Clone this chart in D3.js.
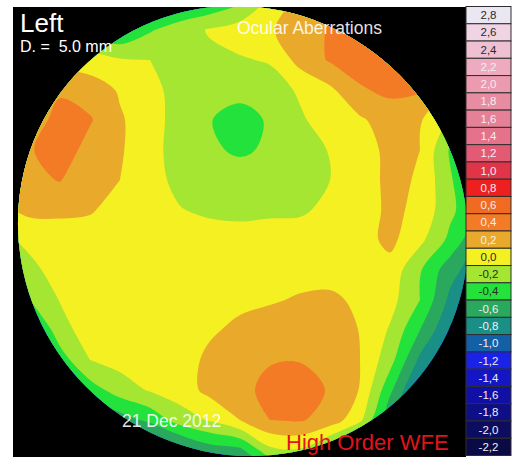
<!DOCTYPE html>
<html>
<head>
<meta charset="utf-8">
<style>
  body { margin: 0; background: #fff; }
  svg { display: block; }
  text { font-family: "Liberation Sans", Arial, sans-serif; }
</style>
</head>
<body>
<svg width="512" height="457"></svg>
<script src="https://d3js.org/d3.v7.min.js"></script>
<script>

  // legend steps (microns), top to bottom
  var legendValues = [2.8, 2.6, 2.4, 2.2, 2.0, 1.8, 1.6, 1.4, 1.2, 1.0, 0.8, 0.6, 0.4, 0.2,
                      0.0, -0.2, -0.4, -0.6, -0.8, -1.0, -1.2, -1.4, -1.6, -1.8, -2.0, -2.2];

  var bandColors = ["#ebe7f2", "#f0d4e4", "#efc0d2", "#eeaabf", "#eb9aaf", "#e88ca2", "#e68097",
                    "#e3728a", "#e25a74", "#e03448", "#ee1f1f", "#f06a22", "#f37b25", "#e9aa2b",
                    "#f4f022", "#a4e632", "#23e23c", "#2aa85e", "#1a8f86", "#1460a6", "#1a22e8",
                    "#1416c4", "#1010a6", "#0e0e86", "#0c0c60", "#0a0a44"];

  // wavefront error, one row every 30px (x = 0..480)
  var wfe = [
    [-0.3, -0.3, -0.5, -0.6, -0.6, -0.6, -0.55, -0.5, -0.35, -0.05, 0.15, 0.3, 0.4, 0.4, 0.35, 0.3, 0.3],
    [-0.2, -0.3, -0.4, -0.4, -0.5, -0.32, -0.2, -0.08, 0.0, 0.08, 0.2, 0.32, 0.42, 0.42, 0.38, 0.3, 0.3],
    [-0.3, -0.2, -0.02, 0.0, -0.08, -0.1, -0.15, -0.15, -0.12, -0.08, 0.17, 0.32, 0.38, 0.42, 0.38, 0.3, 0.2],
    [-0.1, -0.04, 0.27, 0.2, 0.08, -0.02, -0.2, -0.22, -0.22, -0.2, -0.07, 0.06, 0.28, 0.34, 0.32, 0.1, -0.1],
    [0.1, 0.18, 0.38, 0.32, 0.12, 0.0, -0.2, -0.29, -0.4, -0.27, -0.13, 0.0, 0.07, 0.2, 0.12, -0.12, -0.3],
    [0.15, 0.28, 0.42, 0.22, 0.12, -0.02, -0.2, -0.27, -0.33, -0.27, -0.18, -0.09, 0.03, 0.14, 0.1, -0.32, -0.5],
    [0.15, 0.25, 0.31, 0.16, 0.1, -0.02, -0.16, -0.2, -0.2, -0.2, -0.18, -0.1, 0.0, 0.15, 0.08, -0.28, -0.5],
    [0.05, 0.15, 0.14, 0.12, 0.02, 0.0, -0.09, -0.14, -0.15, -0.14, -0.13, -0.05, -0.02, 0.15, 0.05, -0.25, -0.5],
    [-0.15, -0.05, 0.0, 0.0, 0.0, 0.0, 0.0, 0.0, -0.02, 0.0, 0.0, 0.02, 0.02, 0.15, -0.05, -0.35, -0.7],
    [-0.4, -0.15, -0.02, 0.0, 0.0, 0.0, 0.0, 0.0, 0.02, 0.03, 0.03, 0.04, 0.03, 0.03, -0.28, -0.62, -0.85],
    [-0.7, -0.3, -0.09, 0.0, 0.0, 0.0, 0.0, 0.02, 0.05, 0.08, 0.12, 0.13, 0.07, -0.03, -0.3, -0.75, -1.0],
    [-1.0, -0.6, -0.18, 0.0, 0.0, 0.0, 0.0, 0.07, 0.15, 0.2, 0.25, 0.25, 0.09, -0.12, -0.5, -0.9, -1.2],
    [-1.2, -0.9, -0.4, -0.1, -0.03, 0.0, 0.0, 0.15, 0.22, 0.28, 0.29, 0.25, 0.1, -0.22, -0.75, -1.05, -1.4],
    [-1.4, -1.2, -0.8, -0.4, -0.2, -0.08, 0.0, 0.16, 0.22, 0.38, 0.4, 0.28, 0.09, -0.45, -1.0, -1.4, -1.6],
    [-1.6, -1.4, -1.2, -0.8, -0.6, -0.45, -0.2, -0.08, 0.1, 0.3, 0.32, 0.22, -0.05, -0.7, -1.2, -1.5, -1.7],
    [-1.7, -1.6, -1.5, -1.3, -1.1, -1.0, -0.8, -0.6, -0.55, -0.15, -0.12, -0.4, -0.8, -1.3, -1.6, -1.7, -1.8],
    [-1.8, -1.8, -1.7, -1.6, -1.5, -1.5, -1.5, -1.4, -1.2, -0.8, -0.8, -1.0, -1.4, -1.7, -1.8, -1.8, -1.9]
  ];

  var svg = d3.select("svg"),
    panel = {left: 13, top: 7, right: 466, bottom: 457},
    pupil = {cx: 243, cy: 231, rx: 229, ry: 221, tilt: 45},
    step = 30,
    n = wfe[0].length,
    m = wfe.length;

  var ascending = legendValues.slice().reverse();
  var thresholds = ascending.slice(1).map(function (v) { return Math.round((v - 0.1) * 10) / 10; });

  var color = d3.scaleThreshold()
    .domain(thresholds)
    .range(bandColors.slice().reverse());

  // grid index -> pixel (contour values sit at cell centres)
  var x = d3.scaleLinear().domain([0.5, n - 0.5]).range([0, (n - 1) * step]);
  var y = d3.scaleLinear().domain([0.5, m - 0.5]).range([0, (m - 1) * step]);

  var defs = svg.append("defs");
  defs.append("clipPath").attr("id", "panel-clip")
    .append("rect")
    .attr("x", panel.left).attr("y", panel.top)
    .attr("width", panel.right - panel.left).attr("height", panel.bottom - panel.top);
  defs.append("clipPath").attr("id", "pupil-clip")
    .append("ellipse")
    .attr("cx", pupil.cx).attr("cy", pupil.cy).attr("rx", pupil.rx).attr("ry", pupil.ry)
    .attr("transform", "rotate(" + pupil.tilt + "," + pupil.cx + "," + pupil.cy + ")");

  svg.append("rect")
    .attr("x", panel.left).attr("y", panel.top)
    .attr("width", panel.right - panel.left).attr("height", panel.bottom - panel.top)
    .attr("fill", "#000");

  var contours = d3.contours()
    .size([n, m])
    .thresholds(thresholds)(wfe.flat());

  var ringLine = d3.line()
    .x(function (p) { return x(p[0]); })
    .y(function (p) { return y(p[1]); })
    .curve(d3.curveCatmullRomClosed.alpha(0.5));

  function contourPath(c) {
    return c.coordinates.map(function (poly) {
      return poly.map(function (ring) { return ringLine(ring.slice(0, -1)); }).join("");
    }).join("");
  }

  var map = svg.append("g").attr("clip-path", "url(#panel-clip)")
    .append("g").attr("clip-path", "url(#pupil-clip)");

  map.append("rect")
    .attr("x", 0).attr("y", 0).attr("width", 512).attr("height", 480)
    .attr("fill", color(-10));

  map.selectAll("path")
    .data(contours)
    .join("path")
    .attr("d", contourPath)
    .attr("fill", function (d) { return color(d.value); });

  // legend
  var band = d3.scaleBand().domain(legendValues).range([6.5, 455.5]);
  var legend = svg.append("g");

  legend.selectAll("rect")
    .data(legendValues)
    .join("rect")
    .attr("x", 466)
    .attr("y", function (d) { return band(d); })
    .attr("width", 45)
    .attr("height", band.bandwidth())
    .attr("fill", function (d) { return color(d); })
    .attr("stroke", "#2e2e2e")
    .attr("stroke-width", 1);

  legend.selectAll("text")
    .data(legendValues)
    .join("text")
    .attr("x", 488.5)
    .attr("y", function (d) { return band(d) + band.bandwidth() / 2 + 4; })
    .attr("text-anchor", "middle")
    .attr("font-size", 11.5)
    .attr("fill", function (d) { return d3.lab(color(d)).l > 77 ? "#2a2a2a" : "#f2eef0"; })
    .text(function (d) { return d.toFixed(1).replace(".", ","); });

  // titles
  svg.append("text").attr("x", 20).attr("y", 31.5)
    .attr("font-size", 26).attr("fill", "#fff").text("Left");
  svg.append("text").attr("x", 20).attr("y", 51.5)
    .attr("font-size", 16).attr("fill", "#fff")
    .style("white-space", "pre").text("D. =  5.0 mm");
  svg.append("text").attr("x", 237).attr("y", 34)
    .attr("font-size", 17.5).attr("fill", "#fff").attr("fill-opacity", 0.9)
    .text("Ocular Aberrations");
  svg.append("text").attr("x", 122).attr("y", 427)
    .attr("font-size", 17.5).attr("fill", "#fff").attr("fill-opacity", 0.9)
    .text("21 Dec 2012");
  svg.append("text").attr("x", 286).attr("y", 450)
    .attr("font-size", 22).attr("fill", "#e0141c")
    .text("High Order WFE");

</script>
</body>
</html>
